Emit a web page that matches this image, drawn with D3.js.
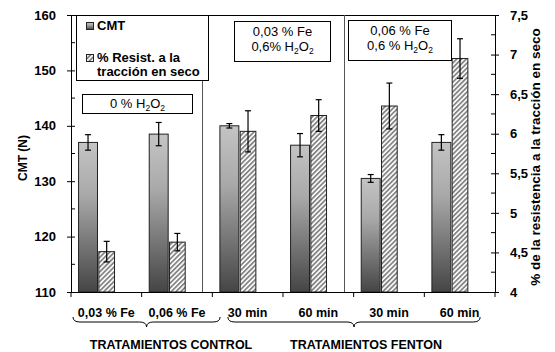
<!DOCTYPE html>
<html>
<head>
<meta charset="utf-8">
<script src="https://cdn.jsdelivr.net/npm/d3@7"></script>
<style>
  html, body { margin: 0; padding: 0; background: #fff; }
  svg { display: block; }
  text { font-family: "Liberation Sans", Arial, sans-serif; fill: #000; }
  .bold { font-weight: bold; }
</style>
</head>
<body>
<svg id="chart" width="555" height="352"></svg>
<script>
// Treatment labels along the x axis
const categories = ["0,03 % Fe", "0,06 % Fe", "30 min", "60 min", "30 min", "60 min"];
// CMT (N), left axis
const cmtValues = [137.0, 138.5, 140.0, 136.5, 130.5, 137.0];
const cmtErrors = [1.4, 2.1, 0.4, 2.1, 0.7, 1.4];
// % dry tensile strength, right axis
const tensileValues = [4.51, 4.63, 6.03, 6.23, 6.35, 6.95];
const tensileErrors = [0.13, 0.11, 0.26, 0.20, 0.29, 0.25];
// Axis ticks
const leftTicks = [110, 120, 130, 140, 150, 160];
const leftMinor = [115, 125, 135, 145, 155];
const rightTicks = [4, 4.5, 5, 5.5, 6, 6.5, 7, 7.5];
const rightMinor = [4.25, 4.75, 5.25, 5.75, 6.25, 6.75, 7.25];
// Group annotations
const groupNames = ["TRATAMIENTOS CONTROL", "TRATAMIENTOS FENTON"];

const svg = d3.select("#chart");
const plot = { left: 71, right: 495, top: 15, bottom: 292 };

const idx = categories.map((d, i) => i);
const x = d3.scaleBand().domain(idx).range([plot.left, plot.right]).padding(0);
const bw = x.bandwidth();
const yL = d3.scaleLinear().domain([110, 160]).range([plot.bottom, plot.top]);
const yR = d3.scaleLinear().domain([4, 7.5]).range([plot.bottom, plot.top]);

const es = d3.formatLocale({ decimal: ",", thousands: ".", grouping: [3], currency: ["", ""] });
const fmt = es.format(".1~f");

// Fills: vertical grey gradient and diagonal hatch
const defs = svg.append("defs");
const grad = defs.append("linearGradient").attr("id", "cmtFill")
  .attr("x1", 0).attr("y1", 0).attr("x2", 0).attr("y2", 1);
grad.append("stop").attr("offset", "0%").attr("stop-color", "#c4c4c4");
grad.append("stop").attr("offset", "35%").attr("stop-color", "#a9a9a9");
grad.append("stop").attr("offset", "100%").attr("stop-color", "#454545");

const hatch = defs.append("pattern").attr("id", "hatch")
  .attr("patternUnits", "userSpaceOnUse").attr("width", 3.4).attr("height", 3.4)
  .attr("patternTransform", "rotate(45)");
hatch.append("rect").attr("width", 3.4).attr("height", 3.4).attr("fill", "#fff");
hatch.append("rect").attr("width", 1.8).attr("height", 3.4).attr("fill", "#858585");

// Bar positions within each band
const cmtOff = 0.107 * bw, cmtW = 0.268 * bw;
const tenOff = 0.394 * bw, tenW = 0.222 * bw;

// Plot frame top line
svg.append("line").attr("x1", plot.left).attr("x2", plot.right)
  .attr("y1", plot.top + 0.5).attr("y2", plot.top + 0.5)
  .attr("stroke", "#000").attr("stroke-width", 1);

// Separators between treatment groups
[2, 4].forEach(i => {
  const sx = Math.round(x(i) - 0.14 * bw) + 0.5;
  svg.append("line").attr("x1", sx).attr("x2", sx)
    .attr("y1", plot.top).attr("y2", plot.bottom)
    .attr("stroke", "#555").attr("stroke-width", 1);
});

// CMT bars
svg.append("g").selectAll("rect").data(idx).join("rect")
  .attr("x", i => x(i) + cmtOff)
  .attr("y", i => yL(cmtValues[i]))
  .attr("width", cmtW)
  .attr("height", i => plot.bottom - yL(cmtValues[i]))
  .attr("fill", "url(#cmtFill)")
  .attr("stroke", "#222").attr("stroke-width", 1);

// Tensile bars
svg.append("g").selectAll("rect").data(idx).join("rect")
  .attr("x", i => x(i) + tenOff)
  .attr("y", i => yR(tensileValues[i]))
  .attr("width", tenW)
  .attr("height", i => plot.bottom - yR(tensileValues[i]))
  .attr("fill", "url(#hatch)")
  .attr("stroke", "#222").attr("stroke-width", 1);

// Error bars
function errorBars(cx, scale, vals, errs) {
  const g = svg.append("g").attr("stroke", "#000").attr("stroke-width", 1.2);
  idx.forEach(i => {
    const xc = cx(i);
    const y1 = scale(vals[i] + errs[i]), y2 = scale(vals[i] - errs[i]);
    g.append("line").attr("x1", xc).attr("x2", xc).attr("y1", y1).attr("y2", y2);
    g.append("line").attr("x1", xc - 3).attr("x2", xc + 3).attr("y1", y1).attr("y2", y1);
    g.append("line").attr("x1", xc - 3).attr("x2", xc + 3).attr("y1", y2).attr("y2", y2);
  });
}
errorBars(i => x(i) + cmtOff + cmtW / 2, yL, cmtValues, cmtErrors);
errorBars(i => x(i) + tenOff + tenW / 2, yR, tensileValues, tensileErrors);

// Left axis
const axL = svg.append("g").attr("transform", `translate(${plot.left},0)`)
  .call(d3.axisLeft(yL).tickValues(leftTicks).tickFormat(d3.format("d")).tickSizeOuter(0).tickPadding(9));
axL.selectAll(".tick line").attr("x1", 4).attr("x2", -4);
axL.selectAll("text").attr("class", "bold").style("font-size", "13px")
  .style("font-family", "'Liberation Sans', Arial, sans-serif").attr("fill", "#000");
axL.select(".domain").attr("stroke", "#000");
axL.selectAll(".minor").data(leftMinor).join("line").attr("class", "minor")
  .attr("x1", 0).attr("x2", 4).attr("y1", d => yL(d)).attr("y2", d => yL(d)).attr("stroke", "#000");

// Right axis
const axR = svg.append("g").attr("transform", `translate(${plot.right},0)`)
  .call(d3.axisRight(yR).tickValues(rightTicks).tickFormat(fmt).tickSizeOuter(0).tickPadding(9));
axR.selectAll(".tick line").attr("x1", -4).attr("x2", 4);
axR.selectAll("text").attr("class", "bold").style("font-size", "13px")
  .style("font-family", "'Liberation Sans', Arial, sans-serif").attr("fill", "#000");
axR.select(".domain").attr("stroke", "#000");
axR.selectAll(".minor").data(rightMinor).join("line").attr("class", "minor")
  .attr("x1", -4).attr("x2", 0).attr("y1", d => yR(d)).attr("y2", d => yR(d)).attr("stroke", "#000");

// Bottom axis: ticks at band boundaries, labels centred in bands
const xb = svg.append("g").attr("transform", `translate(0,${plot.bottom})`);
xb.append("line").attr("x1", plot.left).attr("x2", plot.right).attr("y1", 0.5).attr("y2", 0.5).attr("stroke", "#000");
xb.selectAll(".tk").data(idx.concat([idx.length])).join("line").attr("class", "tk")
  .attr("x1", i => i < idx.length ? x(i) : plot.right).attr("x2", i => i < idx.length ? x(i) : plot.right)
  .attr("y1", 0).attr("y2", 5).attr("stroke", "#000");
xb.selectAll("text").data(idx).join("text").attr("class", "bold")
  .attr("x", i => x(i) + bw / 2).attr("y", 24.5).attr("text-anchor", "middle")
  .style("font-size", "12.5px").text(i => categories[i]);

// Axis titles
svg.append("text").attr("class", "bold").style("font-size", "12px")
  .attr("text-anchor", "middle").attr("transform", "translate(27,158) rotate(-90)").text("CMT (N)");
svg.append("text").attr("class", "bold").style("font-size", "13.5px")
  .attr("text-anchor", "middle").attr("transform", "translate(540,157) rotate(-90)")
  .text("% de la resistencia a la tracción en seco");

// Braces grouping the treatments
function brace(x0, x1, yTop) {
  const xt = (x0 + x1) / 2, ym = yTop + 5, yt = yTop + 10, r = 7;
  return `M${x0},${yTop} Q${x0},${ym} ${x0 + r},${ym} L${xt - r},${ym} Q${xt},${ym} ${xt},${yt}` +
         ` Q${xt},${ym} ${xt + r},${ym} L${x1 - r},${ym} Q${x1},${ym} ${x1},${yTop}`;
}
const braces = [
  { x0: x(0) + 2, x1: x(2) + 0.11 * bw, label: groupNames[0], lx: 171 },
  { x0: x(2) + 0.22 * bw, x1: plot.right - 0.21 * bw, label: groupNames[1], lx: 366 }
];
braces.forEach(b => {
  svg.append("path").attr("d", brace(b.x0, b.x1, 317)).attr("fill", "none")
    .attr("stroke", "#000").attr("stroke-width", 1);
  svg.append("text").attr("class", "bold").style("font-size", "12.5px")
    .attr("x", b.lx).attr("y", 349).attr("text-anchor", "middle").text(b.label);
});

// Legend
const lg = svg.append("g");
lg.append("rect").attr("x", 76.5).attr("y", 15.5).attr("width", 132).attr("height", 65)
  .attr("fill", "#fff").attr("stroke", "#000");
lg.append("rect").attr("x", 86.5).attr("y", 22.5).attr("width", 7).attr("height", 7)
  .attr("fill", "url(#cmtFill)").attr("stroke", "#222");
lg.append("rect").attr("x", 86.5).attr("y", 54.5).attr("width", 7).attr("height", 7)
  .attr("fill", "url(#hatch)").attr("stroke", "#222");
lg.append("text").attr("class", "bold").style("font-size", "13px").attr("x", 97).attr("y", 30).text("CMT");
lg.append("text").attr("class", "bold").style("font-size", "13px").attr("x", 97).attr("y", 62).text("% Resist. a la");
lg.append("text").attr("class", "bold").style("font-size", "13px").attr("x", 97).attr("y", 76).text("tracción en seco");

// Condition boxes
function h2o2(t, prefix) {
  t.append("tspan").text(prefix + "H");
  t.append("tspan").attr("dy", 3).style("font-size", "8.5px").text("2");
  t.append("tspan").attr("dy", -3).text("O");
  t.append("tspan").attr("dy", 3).style("font-size", "8.5px").text("2");
}
const boxes = [
  { x: 82.5, y: 94.5, w: 110, h: 19, lines: [null], h2: "0 % ", base: [108] },
  { x: 234.5, y: 21.5, w: 96, h: 40, lines: ["0,03 % Fe"], h2: "0,6% ", base: [36, 51] },
  { x: 348.5, y: 20.5, w: 103, h: 40, lines: ["0,06 % Fe"], h2: "0,6 % ", base: [35, 50] }
];
boxes.forEach(b => {
  svg.append("rect").attr("x", b.x).attr("y", b.y).attr("width", b.w).attr("height", b.h)
    .attr("fill", "#fff").attr("stroke", "#000");
  const cx = b.x + b.w / 2;
  let k = 0;
  if (b.lines[0]) {
    svg.append("text").style("font-size", "13px").attr("x", cx).attr("y", b.base[0])
      .attr("text-anchor", "middle").text(b.lines[0]);
    k = 1;
  }
  const t = svg.append("text").style("font-size", "13px").attr("x", cx).attr("y", b.base[k])
    .attr("text-anchor", "middle");
  h2o2(t, b.h2);
});
</script>
</body>
</html>
